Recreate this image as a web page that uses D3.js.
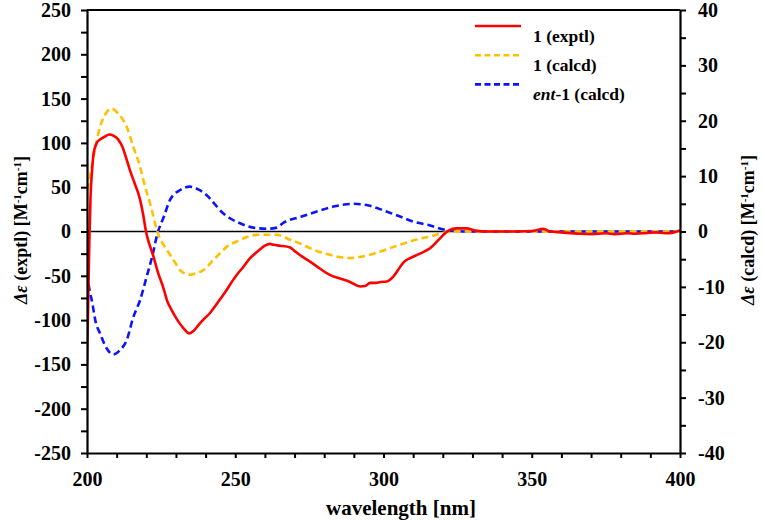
<!DOCTYPE html>
<html><head><meta charset="utf-8">
<script src="https://cdn.jsdelivr.net/npm/d3@7"></script>
<style>
html,body{margin:0;padding:0;background:#fff;}
</style></head>
<body>
<svg id="chart" width="762" height="521"></svg>
<script>
// ---- data ----
const exptlWl = [200,200.4,200.8,201.2,201.7,202.1,202.7,203.3,204.5,206,207.5,209,210.5,212,213.3,214.5,216,217.9,219,219.9,221,222.4,224,225.7,227,228.6,230.5,232.5,234.5,236,238,240,241.5,243.5,245,247.1,249,250.5,252.7,255,257,258.4,260,261.7,263,265.1,268.5,270,271.8,275.2,278.6,281.9,285.3,288.7,292.1,293.8,295.5,297.1,299,301.1,303.3,305.6,307,309,312.3,315.7,319,321.9,324.7,328,331,335,340,345,350,354,356,360,366,370,375,378,382,385,389,392,395,398,400];
const exptlVal = [-150,-80,-10,40,68,85,95,100,104,107,109.5,108,104,95,82,69,55,36,18,0,-14,-28,-47,-63,-78,-89,-100,-109,-115,-112,-104,-97,-92,-83,-76,-66,-56,-49,-40,-30,-24,-20,-16,-14,-15,-16,-18,-22,-26.5,-34,-42,-49,-53,-57,-62,-61.5,-58,-58,-57,-56.5,-51,-40,-34,-30,-25,-19,-8,1,3.5,3.5,1,0,0,0,0.5,3,0,-1,-2.5,-3,-2,-3,-2,-2.5,-1.5,-1,-2,-1,1.5];

const calcdWl = [200,201,202.2,203.3,204.4,206,208.3,210.5,213.4,215.6,217.9,219,221.8,223.7,226.9,228,229.7,231.4,234.7,237,239.2,242,244.9,247.5,250.5,254,257.3,261.7,264,268.5,272,275.2,278.5,281.9,285,288.7,292,295.4,299,302.2,305.5,309,312.3,315.7,319,321.8,326,330,400];
const calcdVal = [7.5,9.9,13.5,16.5,18.9,21,22.2,21.3,18.9,15.3,11.7,9.3,4.0,0,-3.3,-4.2,-5.6,-7.0,-7.8,-7.5,-7.0,-5.5,-3.9,-2.6,-1.8,-1.0,-0.6,-0.6,-0.6,-1.5,-2.2,-3.0,-3.7,-4.2,-4.6,-4.8,-4.6,-4.2,-3.6,-3.0,-2.4,-1.8,-1.3,-0.9,-0.4,-0.1,0,0,0];

const entWl = [200,201,201.6,203,204.4,206.5,208.9,211,213.4,215.6,217.9,220.1,222,223.7,226,228,231.4,234.7,237.5,240.3,243,245.9,248.5,251.6,254.5,257.3,261,264,266.3,271.8,277.5,283.1,289.8,295,300,305.6,310,315.7,320,324,330,400];
const entVal = [-7.5,-11,-12.4,-16.5,-18.4,-21,-22.2,-21.5,-19.6,-15.5,-12.4,-8.2,-4.5,-0.5,2.8,5.7,7.5,8.1,7.6,6.6,5,3.3,2.3,1.5,0.9,0.6,0.5,0.7,1.6,2.6,3.6,4.5,5.0,4.7,3.8,2.7,1.8,1.1,0.4,0.1,0,0];

const xTicks = [200,250,300,350,400];
const yLeftTicks = [-250,-200,-150,-100,-50,0,50,100,150,200,250];
const yRightTicks = [-40,-30,-20,-10,0,10,20,30,40];
const legendLabels = [["","1 (exptl)"],["","1 (calcd)"],["ent","-1 (calcd)"]];

// ---- layout ----
const FONT = "'Liberation Serif', 'Times New Roman', serif";
const svg = d3.select("#chart");
const L = 87, R = 680, T = 10, B = 453;
const x = d3.scaleLinear().domain([200,400]).range([L,R]);
const yL = d3.scaleLinear().domain([-250,250]).range([B,T]);
const yR = d3.scaleLinear().domain([-40,40]).range([B,T]);

svg.append("clipPath").attr("id","clip").append("rect")
  .attr("x",L).attr("y",T).attr("width",R-L).attr("height",B-T);

// zero line
svg.append("line").attr("x1",L).attr("x2",R).attr("y1",yL(0)).attr("y2",yL(0))
  .attr("stroke","#000").attr("stroke-width",1.6);

// curves
const g = svg.append("g").attr("clip-path","url(#clip)");
const lineL = d3.line().x(d=>x(d[0])).y(d=>yL(d[1])).curve(d3.curveMonotoneX);
const lineR = d3.line().x(d=>x(d[0])).y(d=>yR(d[1])).curve(d3.curveMonotoneX);
g.append("path").datum(d3.zip(entWl,entVal)).attr("d",lineR)
  .attr("fill","none").attr("stroke","#0a14ff").attr("stroke-width",2.6).attr("stroke-dasharray","7,4");
g.append("path").datum(d3.zip(calcdWl,calcdVal)).attr("d",lineR)
  .attr("fill","none").attr("stroke","#ffc000").attr("stroke-width",2.6).attr("stroke-dasharray","7,4");
g.append("path").datum(d3.zip(exptlWl,exptlVal)).attr("d",lineL)
  .attr("fill","none").attr("stroke","#ff0000").attr("stroke-width",2.6);

// axes
function styleAxis(sel){
  sel.attr("font-family",FONT).attr("font-size",20).attr("font-weight","bold");
  sel.select(".domain").attr("stroke","#000").attr("stroke-width",2.2);
  sel.selectAll(".tick line").attr("stroke","#000").attr("stroke-width",2);
  sel.selectAll(".tick text").attr("fill","#000");
}
const xMinor = d3.range(200,401,10);
svg.append("g").attr("transform",`translate(0,${B})`)
  .call(d3.axisBottom(x).tickValues(xMinor).tickSize(5).tickSizeOuter(0).tickPadding(14)
        .tickFormat(d=>xTicks.includes(d)?d:""))
  .call(styleAxis);
const yLMinor = d3.range(-250,251,25);
svg.append("g").attr("transform",`translate(${L},0)`)
  .call(d3.axisLeft(yL).tickValues(yLMinor).tickSize(6).tickSizeOuter(0).tickPadding(10)
        .tickFormat(d=>yLeftTicks.includes(d)?d:""))
  .call(styleAxis);
const yRMinor = d3.range(-40,41,5);
svg.append("g").attr("transform",`translate(${R},0)`)
  .call(d3.axisRight(yR).tickValues(yRMinor).tickSize(6).tickSizeOuter(0).tickPadding(12)
        .tickFormat(d=>yRightTicks.includes(d)?d:""))
  .call(styleAxis);
// top border
svg.append("line").attr("x1",L).attr("x2",R).attr("y1",T).attr("y2",T)
  .attr("stroke","#000").attr("stroke-width",2.2);

// axis titles
svg.append("text").attr("x",401).attr("y",515).attr("text-anchor","middle")
  .attr("font-family",FONT).attr("font-weight","bold").attr("font-size",21).text("wavelength [nm]");

function yTitle(xp, word){
  const t = svg.append("text").attr("transform",`translate(${xp},230) rotate(-90)`)
    .attr("text-anchor","middle").attr("font-family",FONT).attr("font-weight","bold").attr("font-size",18);
  t.append("tspan").attr("font-style","italic").text("Δε");
  t.append("tspan").text(` (${word}) [M`);
  t.append("tspan").attr("baseline-shift","super").attr("font-size",11).text("-1");
  t.append("tspan").text("cm");
  t.append("tspan").attr("baseline-shift","super").attr("font-size",11).text("-1");
  t.append("tspan").text("]");
}
yTitle(27,"exptl");
yTitle(754,"calcd");

// legend
const legColors = ["#ff0000","#ffc000","#0a14ff"];
const legDash = [null,"6,3.5","6,3.5"];
legendLabels.forEach((lab,i)=>{
  const ly = 26 + i*29.2;
  svg.append("line").attr("x1",475).attr("x2",521).attr("y1",ly).attr("y2",ly)
    .attr("stroke",legColors[i]).attr("stroke-width",2.6)
    .attr("stroke-dasharray",legDash[i]);
  const t = svg.append("text").attr("x",533).attr("y",ly+16)
    .attr("font-family",FONT).attr("font-weight","bold").attr("font-size",17.5);
  if(lab[0]) { t.append("tspan").attr("font-style","italic").text(lab[0]); t.append("tspan").text(lab[1]); }
  else t.text(lab[1]);
});
</script>
</body></html>
